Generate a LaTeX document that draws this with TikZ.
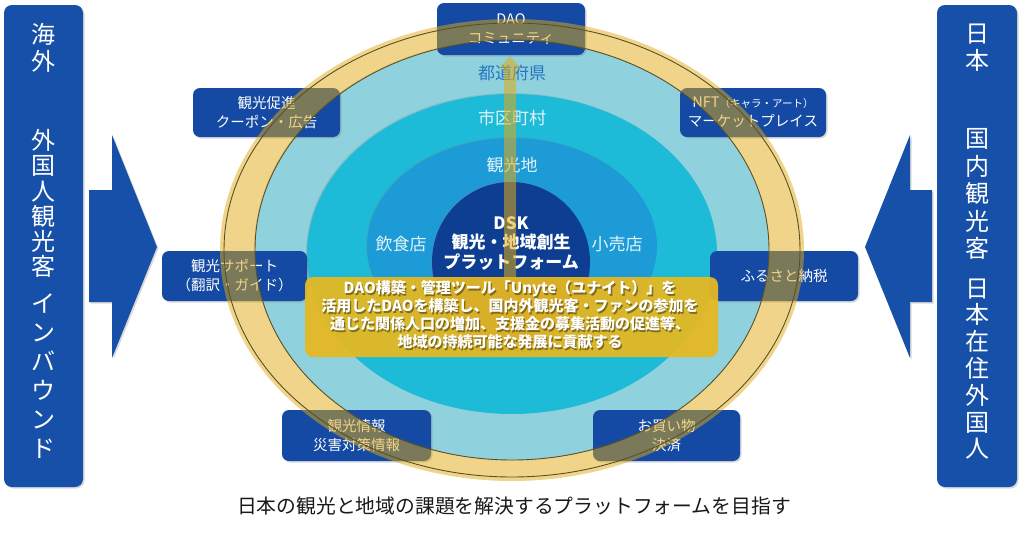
\documentclass[tikz,border=0pt]{standalone}
\usepackage{fontspec}
\setmainfont{Noto Sans CJK JP}
\usetikzlibrary{shadows,calc}
\definecolor{boxblue}{RGB}{20,74,163}
\definecolor{panelblue}{RGB}{22,80,168}
\definecolor{ringgold}{RGB}{225,170,20}
\definecolor{ringline}{RGB}{90,80,40}
\definecolor{lightbluering}{RGB}{143,210,222}
\definecolor{cyanring}{RGB}{30,187,216}
\definecolor{bluering}{RGB}{28,155,215}
\definecolor{navyring}{RGB}{14,62,145}
\definecolor{yellowbox}{RGB}{232,184,32}
\definecolor{prefblue}{RGB}{40,118,190}
\definecolor{ringwhite}{RGB}{225,244,250}
\begin{document}
\begin{tikzpicture}[x=1pt,y=-1pt,
  softshadow/.style={drop shadow={opacity=0.3, shadow xshift=1.5pt, shadow yshift=-1.5pt}},
  ringshadow/.style={drop shadow={opacity=0.25, shadow xshift=-1pt, shadow yshift=1pt}},
  infobox/.style={fill=boxblue, rounded corners=7pt, minimum width=148pt, minimum height=50pt,
    text=white, align=center, font=\fontsize{14.5}{19}\selectfont, inner sep=0pt, softshadow},
  panel/.style={fill=panelblue, rounded corners=8pt, minimum width=79pt, minimum height=482pt, inner sep=0pt, softshadow},
  coltext/.style={text=white, align=center, inner sep=0pt},
  blockarrow/.style={fill=panelblue, softshadow},
  ringtext/.style={text=ringwhite, font=\fontsize{17}{20}\selectfont, inner sep=0pt},
  dsktext/.style={text=white, align=center, font=\fontsize{17}{19.5}\selectfont\bfseries, inner sep=0pt},
  goldveil/.style={fill=ringgold, opacity=0.5},
  ringedge/.style={draw=ringline, line width=0.9pt},
  ytext/.style={align=center, font=\fontsize{15}{18}\selectfont\bfseries, inner sep=0pt}
]
\useasboundingbox (0,0) rectangle (1024,533);

% concentric rings
\path[fill=lightbluering, ringshadow] (512,250) ellipse [x radius=257, y radius=210];
\path[fill=cyanring, ringshadow] (512,254) ellipse [x radius=205, y radius=160];
\path[fill=bluering, ringshadow] (512,246) ellipse [x radius=145, y radius=108];
\path[fill=navyring, ringshadow] (511,262) ellipse [x radius=79, y radius=80];

% ring labels
\node[ringtext, text=prefblue] (pref) at (512,73) {都道府県};
\node[ringtext] (muni) at (512,118) {市区町村};
\node[ringtext] (spot) at (512,165) {観光地};
\node[ringtext] (food) at (401,244) {飲食店};
\node[ringtext] (shop) at (617,244) {小売店};
\node[dsktext] (dsk) at (511,243) {DSK\\観光・地域創生\\プラットフォーム};

% service boxes
\node[infobox, minimum height=52pt] (dao) at (511,29) {DAO\\コミュニティ};
\node[infobox, minimum width=147pt, minimum height=49pt] (promo) at (266.5,112.5) {観光促進\\クーポン・広告};
\node[infobox, minimum width=146pt, minimum height=49pt] (nft) at (753,112.5) {NFT{\fontsize{10.5}{12}\selectfont（キャラ・アート）}\\マーケットプレイス};
\node[infobox, minimum width=145pt, minimum height=50pt] (support) at (234.5,276) {観光サポート\\（翻訳・ガイド）};
\node[infobox, minimum height=50pt] (furusato) at (784,276) {ふるさと納税};
\node[infobox, minimum width=149pt, minimum height=51pt] (info) at (356.5,435.5) {観光情報\\災害対策情報};
\node[infobox, minimum width=147pt, minimum height=51pt] (shopping) at (666.5,435.5) {お買い物\\決済};

% translucent gold ring over everything
\fill[goldveil, even odd rule] (512,250) ellipse [x radius=292, y radius=231] (512,250) ellipse [x radius=257, y radius=210];
\draw[ringedge] (512,250) ellipse [x radius=288, y radius=227];
\draw[ringedge] (512,250) ellipse [x radius=257, y radius=210];

% vertical arrow from platform to DAO community
\coordinate (barbase) at (510,278);
\fill[goldveil, opacity=0.55] ($(barbase)+(-6,0)$) -- ($(dao.south)+(-7,13)$) -- ($(dao.south)+(-12,13)$)
  -- ($(dao.south)+(-1,1)$) -- ($(dao.south)+(10,13)$) -- ($(dao.south)+(5,13)$) -- ($(barbase)+(6,0)$) -- cycle;

% yellow message box
\node[fill=yellowbox, fill opacity=0.93, rounded corners=8pt, minimum width=413pt, minimum height=80pt, inner sep=0pt] (ybox) at (511.5,317) {};
\node[ytext, text=black, opacity=0.4] (ytxtshadow) at (511.3,316.3) {DAO構築・管理ツール「Unyte（ユナイト）」を\\活用したDAOを構築し、国内外観光客・ファンの参加を\\通じた関係人口の増加、支援金の募集活動の促進等、\\地域の持続可能な発展に貢献する};
\node[ytext, text=white] (ytxt) at (510,315) {DAO構築・管理ツール「Unyte（ユナイト）」を\\活用したDAOを構築し、国内外観光客・ファンの参加を\\通じた関係人口の増加、支援金の募集活動の促進等、\\地域の持続可能な発展に貢献する};

% side panels
\node[panel] (lpanel) at (43.5,246) {};
\node[coltext, font=\fontsize{24}{27}\selectfont] (lt1) at (43.5,48) {海\\外};
\node[coltext, font=\fontsize{24}{25.2}\selectfont] (lt2) at (43.5,203.5) {外\\国\\人\\観\\光\\客};
\node[coltext, font=\fontsize{24}{29}\selectfont] (lt3) at (43.5,376.5) {イ\\ン\\バ\\ウ\\ン\\ド};
\node[panel, minimum width=80pt] (rpanel) at (977,246) {};
\node[coltext, font=\fontsize{24}{27}\selectfont] (rt1) at (977,48) {日\\本};
\node[coltext, font=\fontsize{24}{27.5}\selectfont] (rt2) at (977,194) {国\\内\\観\\光\\客};
\node[coltext, font=\fontsize{24}{26.8}\selectfont] (rt3) at (977,369) {日\\本\\在\\住\\外\\国\\人};

% block arrows
\path[blockarrow] (89,190) -- (112,190) -- (112,135) -- (157,247) -- (112,358) -- (112,302) -- (89,302) -- cycle;
\path[blockarrow] (932,190) -- (910,190) -- (910,135) -- (865,247) -- (910,358) -- (910,302) -- (932,302) -- cycle;

% caption
\node[font=\fontsize{19.8}{22}\selectfont, text=black!90, inner sep=0pt] (caption) at (514,506) {日本の観光と地域の課題を解決するプラットフォームを目指す};
\end{tikzpicture}
\end{document}
